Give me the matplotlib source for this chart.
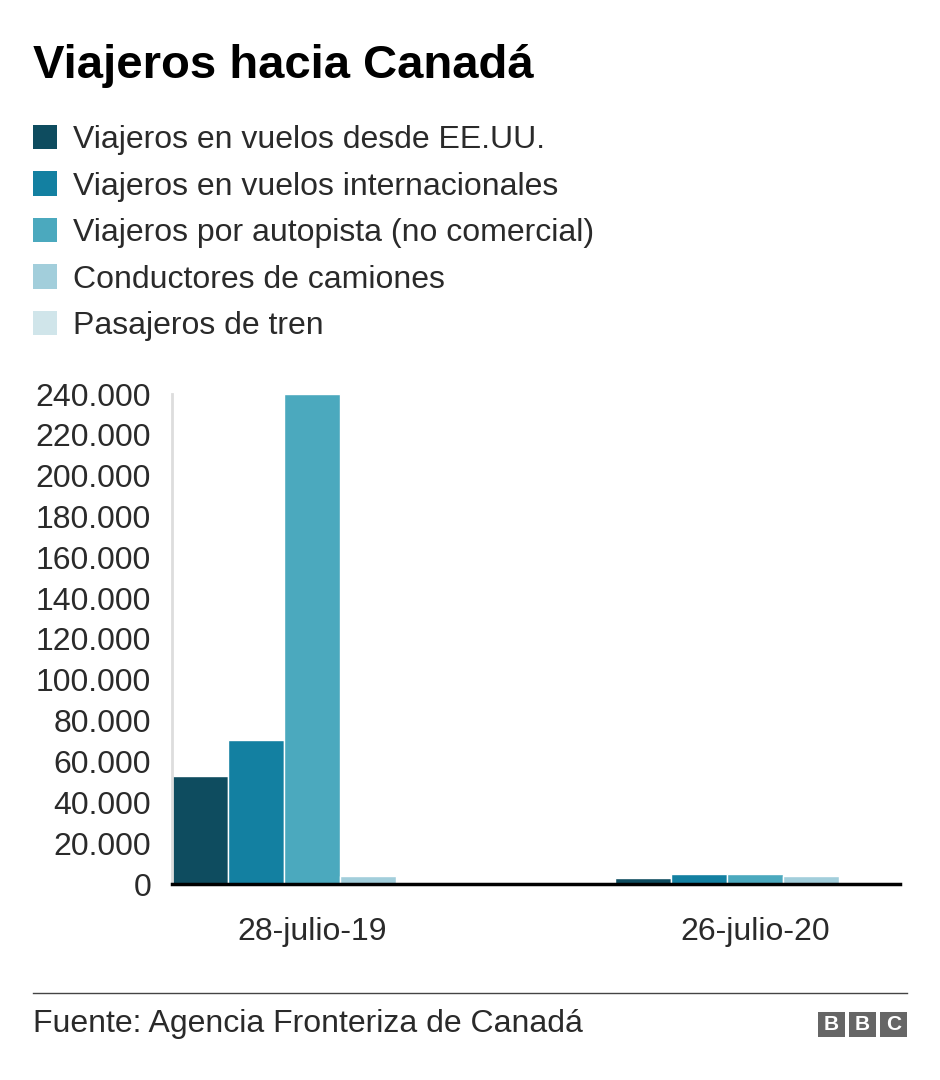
import numpy as np
import matplotlib
matplotlib.use("Agg")
import matplotlib.pyplot as plt
from matplotlib.patches import Rectangle
from matplotlib.lines import Line2D

plt.rcParams['font.family'] = ['Liberation Sans', 'DejaVu Sans']

# Data
fechas = ['28-julio-19', '26-julio-20']
series = ['Viajeros en vuelos desde EE.UU.',
          'Viajeros en vuelos internacionales',
          'Viajeros por autopista (no comercial)',
          'Conductores de camiones',
          'Pasajeros de tren']
vuelos_eeuu = [53000, 3000]
vuelos_intl = [70500, 5000]
autopista = [240000, 5000]
camiones = [4000, 4000]
tren = [0, 0]
valores = [vuelos_eeuu, vuelos_intl, autopista, camiones, tren]
colores = ['#0e4c5f', '#1380a1', '#4ba9be', '#a2cedb', '#d0e5ea']
yticks = np.arange(0, 240001, 20000)

fig = plt.figure(figsize=(9.4, 10.8), dpi=100)
txt = '#2a2a2a'

# Title
fig.text(33/940, 1 - 66/1080, 'Viajeros hacia Canadá', fontsize=34, fontweight='bold',
         color='#000000', va='center', ha='left')

# Legend
for i, (s, c) in enumerate(zip(series, colores)):
    yc = 1 - (137 + i*46.5)/1080
    fig.patches.append(Rectangle((33/940, yc - 12/1080), 24/940, 24/1080,
                                 transform=fig.transFigure, facecolor=c, edgecolor='none'))
    fig.text(73/940, yc - 3/1080, s, fontsize=23, color=txt, va='center', ha='left')

# Chart
ax = fig.add_axes([172/940, 1 - 884/1080, (900-172)/940, (884-394)/1080])
x = np.arange(len(fechas))
w = 0.1264
for i, (vals, c) in enumerate(zip(valores, colores)):
    ax.bar(x + (i - 2)*w, vals, width=w, color=c, edgecolor='white', linewidth=1, zorder=2)

ax.set_xlim(-0.316, 1.327)
ax.set_ylim(0, 240000)
ax.set_yticks(yticks)
ax.set_yticklabels([f'{v:,}'.replace(',', '.') for v in yticks], fontsize=23, color=txt)
ax.set_xticks(x)
ax.set_xticklabels(fechas, fontsize=23, color=txt)
ax.tick_params(axis='y', length=0, pad=15)
ax.tick_params(axis='x', length=0, pad=24)
for s in ['top', 'right']:
    ax.spines[s].set_visible(False)
ax.spines['left'].set_color('#dddddd')
ax.spines['left'].set_linewidth(2)
ax.spines['bottom'].set_color('#000000')
ax.spines['bottom'].set_linewidth(2.5)
ax.spines['bottom'].set_zorder(3)

# Footer
fig.add_artist(Line2D([33/940, 907/940], [1 - 993/1080]*2, color='#444444', linewidth=1,
                      transform=fig.transFigure))
fig.text(33/940, 1 - 1024/1080, 'Fuente: Agencia Fronteriza de Canadá', fontsize=23,
         color=txt, va='center', ha='left')
for i, letra in enumerate('BBC'):
    x0 = (818 + i*31)/940
    fig.patches.append(Rectangle((x0, 1 - 1037/1080), 27/940, 25/1080,
                                 transform=fig.transFigure, facecolor='#666666', edgecolor='none'))
    fig.text(x0 + 13.5/940, 1 - 1024.5/1080, letra, fontsize=15, fontweight='bold',
             color='white', va='center', ha='center')

fig.savefig('out.png', dpi=100, facecolor='white')
